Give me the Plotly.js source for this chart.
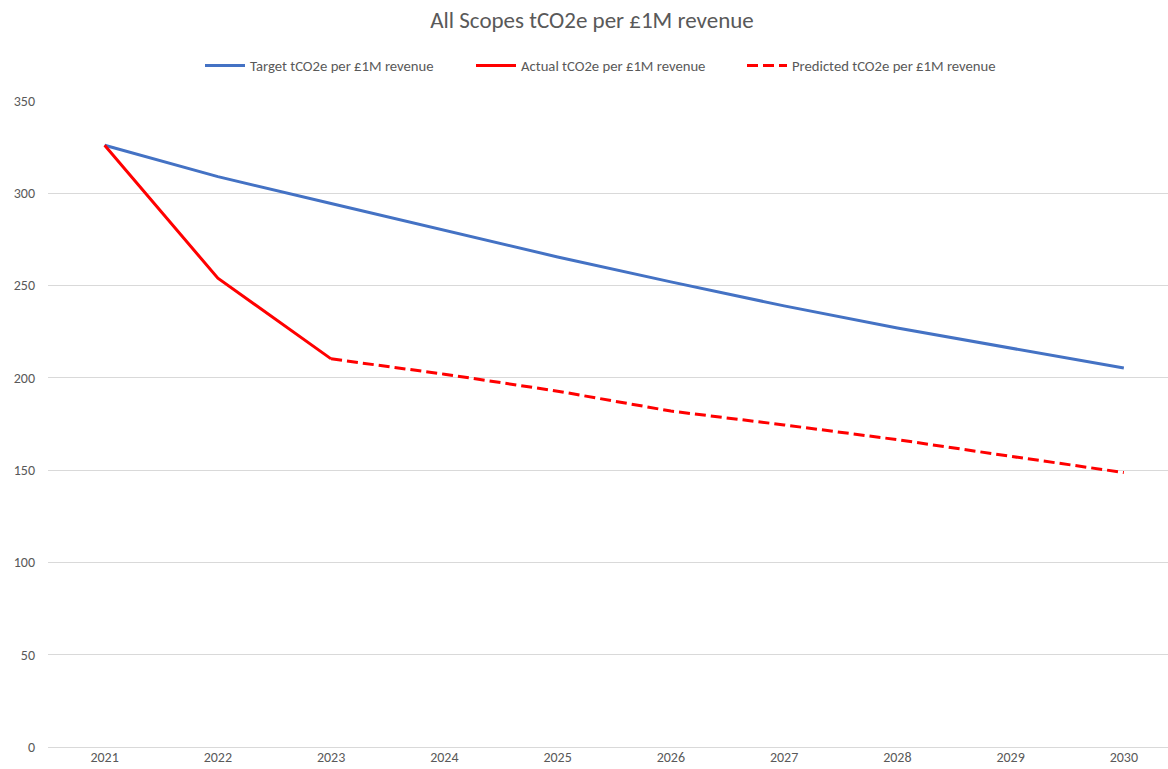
<!DOCTYPE html>
<html><head><meta charset="utf-8">
<script src="https://cdn.plot.ly/plotly-3.0.1.min.js"></script>
<style>html,body{margin:0;padding:0;background:#fff;}#chart{width:1168px;height:769px;}</style>
</head><body><div id="chart"></div>
<script>
const years = ['2021','2022','2023','2024','2025','2026','2027','2028','2029','2030'];
const targetValues = [326, 309, 294.5, 280, 265.5, 252, 239, 227, 216, 205.3];
const actualYears = ['2021','2022','2023'];
const actualValues = [326, 254, 210.3];
const predictedYears = ['2023','2024','2025','2026','2027','2028','2029','2030'];
const predictedValues = [210.3, 202, 192.8, 182, 174.5, 166.5, 157.5, 148.7];
const yTicks = [0, 50, 100, 150, 200, 250, 300, 350];

const font = 'Carlito, Calibri, "Open Sans", sans-serif';
const traces = [
  {x: years, y: targetValues, type: 'scatter', mode: 'lines', name: 'Target tCO2e per £1M revenue',
   line: {color: '#4472C4', width: 3}},
  {x: actualYears, y: actualValues, type: 'scatter', mode: 'lines', name: 'Actual tCO2e per £1M revenue',
   line: {color: '#FF0000', width: 3}},
  {x: predictedYears, y: predictedValues, type: 'scatter', mode: 'lines', name: 'Predicted tCO2e per £1M revenue',
   line: {color: '#FF0000', width: 3, dash: '11px,5px'}}
];
const layout = {
  width: 1168, height: 769,
  paper_bgcolor: '#fff', plot_bgcolor: '#fff',
  margin: {l: 48, r: 0, t: 101, b: 22},
  font: {family: font, color: '#595959', size: 14},
  title: {text: 'All Scopes tCO2e per £1M revenue', x: 592/1168, xanchor: 'center', y: 1 - 20/769, yanchor: 'middle',
          font: {family: font, size: 23, color: '#595959'}},
  showlegend: true,
  legend: {orientation: 'h', x: (200 - 48) / 1120, xanchor: 'left', y: 1 - 66/769, yref: 'container', yanchor: 'middle',
           font: {family: font, size: 14.7, color: '#595959'}, itemwidth: 40, traceorder: 'normal',
           entrywidth: 216, entrywidthmode: 'pixels'},
  xaxis: {type: 'category', range: [-0.5, 9.39], showgrid: false, zeroline: false, showline: false,
          ticks: '', tickfont: {family: font, size: 14, color: '#595959'}, fixedrange: true, automargin: false},
  yaxis: {range: [0, 350], tickvals: yTicks, ticktext: yTicks.map(String), showgrid: true, gridcolor: '#D9D9D9',
          gridwidth: 1, zeroline: true, zerolinecolor: '#D9D9D9', zerolinewidth: 1, showline: false, ticks: '',
          ticklabelstandoff: 12, tickfont: {family: font, size: 14, color: '#595959'}, automargin: false}
};
Plotly.newPlot('chart', traces, layout, {displayModeBar: false, staticPlot: true});
</script>
</body></html>
